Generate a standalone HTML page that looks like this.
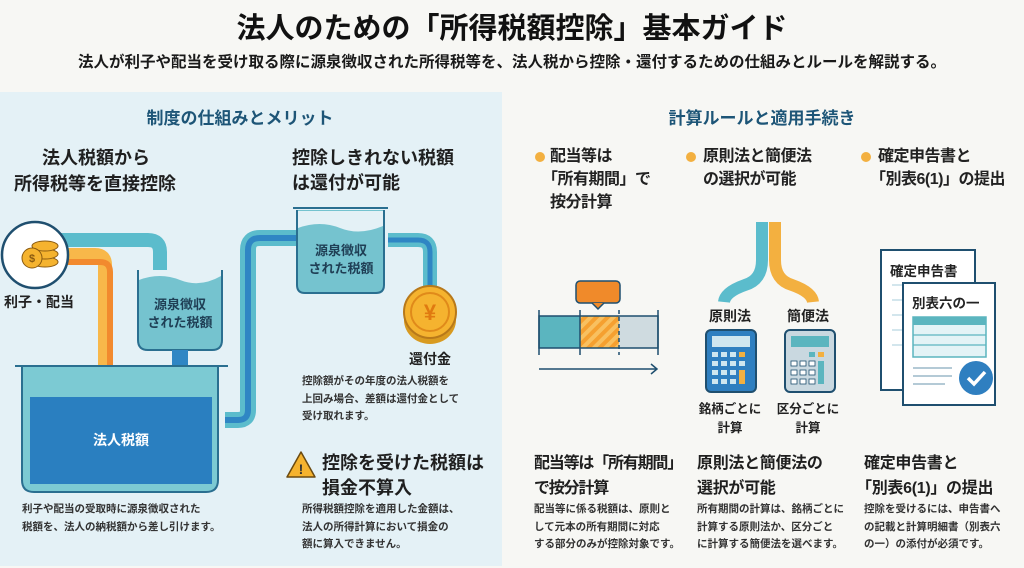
<!DOCTYPE html>
<html><head><meta charset="utf-8">
<style>
body{margin:0;width:1024px;height:568px;background:#f7f7f4;font-family:"Liberation Sans","Noto Sans CJK JP",sans-serif;position:relative;overflow:hidden;color:#222}
.t{position:absolute;white-space:nowrap;font-weight:bold}
.h{color:#1d5577;font-size:17px}
.b{font-size:18px;line-height:25px;color:#1f1f1f}
.bb{font-size:16px;line-height:25px;color:#1f1f1f;letter-spacing:-0.3px}
.s{font-size:10.5px;line-height:17.5px;color:#333}
.c{text-align:center}
.k{margin-left:-8px}
</style></head><body>
<div style="position:absolute;left:0;top:92px;width:502px;height:474px;background:#e4f1f6"></div>
<div class="t c" style="left:0;width:1024px;top:5px;font-size:29px;color:#111">法人のための「所得税額控除」基本ガイド</div>
<div class="t c" style="left:0;width:1024px;top:50px;font-size:15.5px;color:#1a1a1a">法人が利子や配当を受け取る際に源泉徴収された所得税等を、法人税から控除・還付するための仕組みとルールを解説する。</div>

<svg style="position:absolute;left:0;top:0" width="1024" height="568">
<path d="M40 240 H148 Q160 240 160 252 V275" fill="none" stroke="#5bbccc" stroke-width="14"/>
<path d="M40 255 H95 Q105 255 105 265 V398" fill="none" stroke="#f8b84a" stroke-width="14"/>
<path d="M40 262 H100 Q110 262 110 272 V398" fill="none" stroke="#f28a2e" stroke-width="6"/>
<path d="M138 270 V340 Q138 350 148 350 H212 Q222 350 222 340 V270" fill="#75c3cf" stroke="#2a6f90" stroke-width="2"/>
<path d="M139 280 Q160 272 180 280 T221 276 V270 H139Z" fill="#e4f1f6"/>
<rect x="172" y="350" width="16" height="48" fill="#2f86c4"/>
<path d="M225 420 H238 Q248 420 248 410 V250 Q248 238 260 238 H300" fill="none" stroke="#5bbccc" stroke-width="16"/>
<path d="M225 420 H238 Q248 420 248 410 V250 Q248 238 260 238 H300" fill="none" stroke="#2f86c4" stroke-width="6"/>
<path d="M15 366 H228 M22 366 V480 Q22 492 34 492 H206 Q218 492 218 480 V366" fill="#7ccad3" stroke="#2a6f90" stroke-width="2"/>
<rect x="30" y="397" width="182" height="87" fill="#2a7fc0"/>
<path d="M388 240 H418 Q430 240 430 252 V290" fill="none" stroke="#5bbccc" stroke-width="14"/>
<path d="M388 240 H418 Q430 240 430 252 V290" fill="none" stroke="#2f86c4" stroke-width="5"/>
<path d="M293 208 H388 M297 210 V285 Q297 293 305 293 H376 Q384 293 384 285 V210" fill="#75c3cf" stroke="#2a6f90" stroke-width="2"/>
<path d="M298 211 V228 Q320 220 340 228 T383 226 V211Z" fill="#e4f1f6"/>
<circle cx="35" cy="255" r="33" fill="#fff" stroke="#1f4f6f" stroke-width="2.5"/>
<ellipse cx="45" cy="262" rx="13" ry="5" fill="#f5b32f" stroke="#8a5a10"/>
<ellipse cx="45" cy="254" rx="13" ry="5" fill="#f5b32f" stroke="#8a5a10"/>
<ellipse cx="45" cy="246" rx="13" ry="5" fill="#f5b32f" stroke="#8a5a10"/>
<circle cx="32" cy="258" r="10" fill="#f5b32f" stroke="#8a5a10"/>
<text x="32" y="262" font-size="11" text-anchor="middle" fill="#8a5a10" font-weight="bold">$</text>
<ellipse cx="430" cy="320" rx="26" ry="24" fill="#d89a20"/>
<circle cx="430" cy="312" r="26" fill="#f5b32f" stroke="#b8791a" stroke-width="2"/>
<circle cx="430" cy="312" r="19" fill="none" stroke="#e08a1a" stroke-width="2"/>
<text x="430" y="320" font-size="22" text-anchor="middle" fill="#e07a10" font-weight="bold">¥</text>
<path d="M301 452 L315 477 H287Z" fill="#f5b32f" stroke="#6b4a10" stroke-width="1.5" stroke-linejoin="round"/>
<text x="301" y="474" font-size="14" text-anchor="middle" fill="#333" font-weight="bold">!</text>
<circle cx="540" cy="157" r="5" fill="#f3b040"/>
<circle cx="691" cy="157" r="5" fill="#f3b040"/>
<circle cx="866" cy="157" r="5" fill="#f3b040"/>
<rect x="576" y="281" width="44" height="22" rx="4" fill="#f08a2a" stroke="#1f4f6f" stroke-width="1.5"/>
<path d="M592 303 L598 309 L604 303" fill="#f08a2a" stroke="#1f4f6f" stroke-width="1.5"/>
<defs><pattern id="hh" width="8" height="8" patternUnits="userSpaceOnUse" patternTransform="rotate(45)"><rect width="8" height="8" fill="#f5a030"/><rect width="4" height="8" fill="#f8c060"/></pattern></defs>
<rect x="539" y="316" width="41" height="32" fill="#5bb5bf"/>
<rect x="580" y="316" width="39" height="32" fill="url(#hh)"/>
<rect x="619" y="316" width="39" height="32" fill="#cfdbe0"/>
<rect x="539" y="316" width="119" height="32" fill="none" stroke="#1f4f6f" stroke-width="1.5"/>
<path d="M539 310 V355 M580 310 V355 M658 310 V355" stroke="#1f4f6f" stroke-width="1.5"/>
<path d="M619 310 V355" stroke="#1f4f6f" stroke-width="1.5" stroke-dasharray="4 3"/>
<path d="M539 369 H657 M651 364 L657 369 L651 374" fill="none" stroke="#1f4f6f" stroke-width="1.5"/>
<path d="M762 222 V260 Q762 280 745 285 Q725 292 724 302" fill="none" stroke="#5bbccc" stroke-width="12"/>
<path d="M775 222 V260 Q775 280 792 285 Q812 292 813 302" fill="none" stroke="#f3b040" stroke-width="12"/>
<rect x="706" y="330" width="50" height="62" rx="5" fill="#2f7fc0" stroke="#1f4f6f" stroke-width="2"/>
<rect x="712" y="336" width="38" height="11" fill="#cfe6ef"/>
<g fill="#cfe6ef"><rect x="712" y="352" width="6" height="5"/><rect x="721" y="352" width="6" height="5"/><rect x="730" y="352" width="6" height="5"/><rect x="739" y="352" width="6" height="5" fill="#f3b040"/>
<rect x="712" y="361" width="6" height="5"/><rect x="721" y="361" width="6" height="5"/><rect x="730" y="361" width="6" height="5"/><rect x="739" y="361" width="6" height="5"/>
<rect x="712" y="370" width="6" height="5"/><rect x="721" y="370" width="6" height="5"/><rect x="730" y="370" width="6" height="5"/><rect x="739" y="370" width="6" height="14" fill="#f3b040"/>
<rect x="712" y="379" width="6" height="5"/><rect x="721" y="379" width="6" height="5"/><rect x="730" y="379" width="6" height="5"/></g>
<rect x="785" y="330" width="50" height="62" rx="5" fill="#c9d8e0" stroke="#1f4f6f" stroke-width="2"/>
<rect x="791" y="336" width="38" height="11" fill="#5bb5bf"/>
<g fill="#fff" stroke="#1f4f6f" stroke-width="0.8"><rect x="791" y="361" width="6" height="5"/><rect x="800" y="361" width="6" height="5"/><rect x="809" y="361" width="6" height="5"/>
<rect x="791" y="370" width="6" height="5"/><rect x="800" y="370" width="6" height="5"/><rect x="809" y="370" width="6" height="5"/>
<rect x="791" y="379" width="6" height="5"/><rect x="800" y="379" width="6" height="5"/><rect x="809" y="379" width="6" height="5"/></g>
<rect x="809" y="352" width="6" height="5" fill="#5bb5bf"/><rect x="818" y="352" width="6" height="5" fill="#f3b040"/><rect x="818" y="361" width="6" height="23" fill="#5bb5bf"/>
<rect x="881" y="250" width="94" height="140" fill="#fff" stroke="#1f4f6f" stroke-width="2"/>
<path d="M892 285 H960 M892 300 H960 M892 315 H960 M892 330 H960 M892 345 H960 M905 285 V360" stroke="#b9d6e2" stroke-width="1.2"/>
<rect x="903" y="283" width="92" height="122" fill="#fff" stroke="#1f4f6f" stroke-width="2"/>
<rect x="913" y="317" width="73" height="40" fill="#e3f3f6" stroke="#5bb5bf" stroke-width="1.5"/>
<rect x="913" y="317" width="73" height="8" fill="#5bb5bf"/>
<path d="M913 335 H986 M913 345 H986" stroke="#5bb5bf" stroke-width="1.2"/>
<path d="M913 368 H952 M913 376 H952 M913 384 H945" stroke="#9bb9c8" stroke-width="1.5"/>
<circle cx="976" cy="378" r="17" fill="#2f7fc0"/>
<path d="M968 378 L974 384 L985 372" fill="none" stroke="#fff" stroke-width="3.5"/>
</svg>

<div class="t h c" style="left:0;width:480px;top:104px">制度の仕組みとメリット</div>
<div class="t h c" style="left:512px;width:500px;top:104px">計算ルールと適用手続き</div>

<div class="t b" style="left:42px;top:146px">法人税額から</div>
<div class="t b" style="left:14px;top:172px">所得税等を直接控除</div>
<div class="t b" style="left:292px;top:146px">控除しきれない税額<br>は還付が可能</div>
<div class="t" style="left:4px;top:292px;font-size:14px">利子・配当</div>
<div class="t c" style="left:138px;width:84px;top:296px;font-size:13px;line-height:18px;color:#1f3f55">源泉徴収<br>された税額</div>
<div class="t c" style="left:297px;width:88px;top:242px;font-size:13px;line-height:18px;color:#1f3f55">源泉徴収<br>された税額</div>
<div class="t c" style="left:30px;width:182px;top:430px;font-size:14px;color:#fff">法人税額</div>
<div class="t c" style="left:400px;width:60px;top:349px;font-size:14px">還付金</div>
<div class="t s" style="left:302px;top:373px">控除額がその年度の法人税額を<br>上回み場合、差額は還付金として<br>受け取れます。</div>
<div class="t b" style="left:322px;top:451px">控除を受けた税額は<br>損金不算入</div>
<div class="t s" style="left:302px;top:501px">所得税額控除を適用した金額は、<br>法人の所得計算において損金の<br>額に算入できません。</div>
<div class="t s" style="left:22px;top:501px">利子や配当の受取時に源泉徴収された<br>税額を、法人の納税額から差し引けます。</div>

<div class="t" style="left:550px;top:145px;font-size:16px;line-height:23px;letter-spacing:-0.5px">配当等は<br><span class="k">「所有期間」で</span><br>按分計算</div>
<div class="t" style="left:703px;top:145px;font-size:16px;line-height:23px;letter-spacing:-0.5px">原則法と簡便法<br>の選択が可能</div>
<div class="t" style="left:878px;top:145px;font-size:16px;line-height:23px;letter-spacing:-0.5px">確定申告書と<br><span class="k">「別表6(1)」の提出</span></div>
<div class="t c" style="left:700px;width:60px;top:306px;font-size:14px">原則法</div>
<div class="t c" style="left:778px;width:60px;top:306px;font-size:14px">簡便法</div>
<div class="t c" style="left:695px;width:70px;top:400px;font-size:12.5px;line-height:19px">銘柄ごとに<br>計算</div>
<div class="t c" style="left:773px;width:70px;top:400px;font-size:12.5px;line-height:19px">区分ごとに<br>計算</div>
<div class="t" style="left:890px;top:260px;font-size:13.5px">確定申告書</div>
<div class="t" style="left:912px;top:292px;font-size:13.5px">別表六の一</div>

<div class="t bb" style="left:534px;top:451px;letter-spacing:-1.2px">配当等は「所有期間」<br>で按分計算</div>
<div class="t bb" style="left:697px;top:451px">原則法と簡便法の<br>選択が可能</div>
<div class="t bb" style="left:864px;top:451px">確定申告書と<br><span class="k">「別表6(1)」の提出</span></div>
<div class="t s" style="left:534px;top:501px">配当等に係る税額は、原則と<br>して元本の所有期間に対応<br>する部分のみが控除対象です。</div>
<div class="t s" style="left:697px;top:501px">所有期間の計算は、銘柄ごとに<br>計算する原則法か、区分ごと<br>に計算する簡便法を選べます。</div>
<div class="t s" style="left:864px;top:501px">控除を受けるには、申告書へ<br>の記載と計算明細書（別表六<br>の一）の添付が必須です。</div>
</body></html>
